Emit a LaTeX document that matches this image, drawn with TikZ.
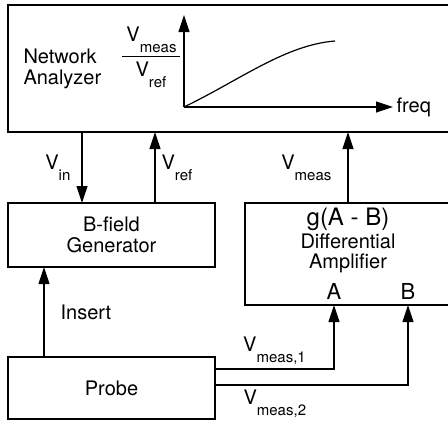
\documentclass[tikz,border=0pt]{standalone}
\usepackage{amsmath}
\usepackage{fontspec}
\setmainfont{TeX Gyre Heros}
\usetikzlibrary{positioning,arrows.meta,calc}
\tikzset{
  box/.style  ={draw, line width=1.2pt, outer sep=0pt, inner sep=0pt, align=center},
  fl/.style   ={-{Triangle[length=17pt,width=11pt]}, line width=1.2pt},
  lbl/.style  ={inner sep=2pt},
  big/.style  ={font=\fontsize{24}{24}\selectfont},
  pin/.style  ={font=\fontsize{22}{22}\selectfont, inner sep=0pt},
}
\newcommand{\Vs}[1]{\mbox{V\raisebox{-11pt}{\fontsize{15}{15}\selectfont #1}}}

\begin{document}
\begin{tikzpicture}[x=1pt, y=-1pt, font=\fontsize{20}{21}\selectfont]
  \useasboundingbox (0,0) rectangle (448,426);

  % ---- boxes ---------------------------------------------------------
  \node[box, minimum width=445pt, minimum height=127pt, anchor=north west] (na) at (8,5) {};
  \node[box, minimum width=207pt, minimum height=64pt,
        below=71pt of na.south west, anchor=north west] (bg)
        {\fontsize{20}{19}\selectfont B-field\\Generator};
  \node[box, minimum width=208pt, minimum height=102pt,
        right=30pt of bg.north east, anchor=north west] (da) {};
  \node[box, minimum width=207pt, minimum height=62pt,
        below=90pt of bg.south west, anchor=north west] (probe) {Probe};

  % ---- network analyzer display --------------------------------------
  \node[align=left, anchor=west] (nalab) at (20,69) {Network\\Analyzer};
  \node (ratio) at (151,57)
        {$\genfrac{}{}{1.2pt}{0}{\kern4pt\Vs{meas}\kern3pt}{\Vs{ref}}$};
  \coordinate (orig) at (184,107);
  \draw[fl] (orig) -- ++(0,-92);
  \draw[fl] (orig) -- ++(209,0) node[right=3pt, inner sep=0pt] (freq) {freq};
  \draw[line width=1.2pt] (orig) .. controls (240,80) and (285,45) .. (335,41);

  % ---- amplifier text ------------------------------------------------
  \node[big] (gain) at ($(da.north west)+(103,16)$) {g(A - B)};
  \node[font=\fontsize{20}{20}\selectfont, align=center] (dalab)
        at ($(da.north west)+(103,50)$) {Differential\\Amplifier};
  \coordinate (inA) at ($(da.south west)+(89,0)$);
  \coordinate (inB) at ($(da.south west)+(163,0)$);
  \node[pin, above=5pt of inA] (pinA) {A};
  \node[pin, above=5pt of inB] (pinB) {B};

  % ---- signals -------------------------------------------------------
  \coordinate (vin)  at ($(na.south west)+(74,0)$);
  \coordinate (vref) at ($(bg.north west)+(147,0)$);
  \coordinate (meas) at ($(da.north west)+(103,0)$);
  \coordinate (ins)  at ($(probe.north west)+(36,0)$);
  \coordinate (pA)   at ($(probe.north east)+(0,12)$);
  \coordinate (pB)   at ($(probe.north east)+(0,28)$);

  \draw[fl] (vin) -- (vin |- bg.north) node[lbl, midway, left=9pt] {\Vs{in}};
  \draw[fl] (vref) -- (vref |- na.south) node[lbl, midway, right=4pt] {\Vs{ref}};
  \draw[fl] (meas) -- (meas |- na.south) node[lbl, midway, left=14pt] {\Vs{meas}};
  \draw[fl] (ins) -- (ins |- bg.south) node[lbl, midway, right=14pt] {Insert};
  \draw[fl] (pA) -| (inA) node[lbl, pos=0.25, above=2pt] {\Vs{meas,1}};
  \draw[fl] (pB) -| (inB) node[lbl, pos=0.155, below=2pt] {\Vs{meas,2}};
\end{tikzpicture}
\end{document}
